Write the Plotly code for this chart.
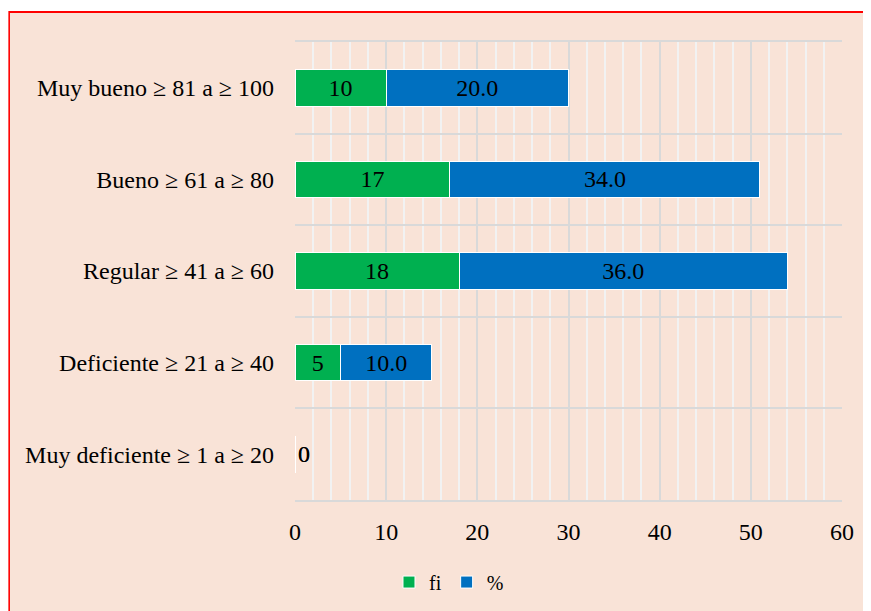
import plotly.graph_objects as go

categories = ["Muy deficiente ≥ 1 a ≥ 20", "Deficiente ≥ 21 a ≥ 40", "Regular ≥ 41 a ≥ 60",
              "Bueno ≥ 61 a ≥ 80", "Muy bueno ≥ 81 a ≥ 100"]
fi = [0, 5, 18, 17, 10]
pct = [0.0, 10.0, 36.0, 34.0, 20.0]

FONT = "Liberation Serif"
BG = "#F9E3D7"
FS = 24

def positions(vals):
    return ["outside" if v == 0 else "inside" for v in vals]

fig = go.Figure()
fig.add_trace(go.Bar(
    y=categories, x=fi, name="fi", orientation="h",
    marker=dict(color="#00B050", line=dict(color="#FFFFFF", width=1)),
    text=[f"{v}" for v in fi], textposition=positions(fi),
    insidetextanchor="middle", textangle=0,
    textfont=dict(family=FONT, size=FS, color="black"),
    cliponaxis=False,
))
fig.add_trace(go.Bar(
    y=categories, x=pct, name="%", orientation="h",
    marker=dict(color="#0070C0", line=dict(color="#FFFFFF", width=1)),
    text=[f"{v:.1f}" if v else "0" for v in pct], textposition=positions(pct),
    insidetextanchor="middle", textangle=0,
    textfont=dict(family=FONT, size=FS, color="black"),
    cliponaxis=False,
))

# chart-area frame (red border, peach fill) drawn behind the plot
fig.add_shape(type="rect", xref="paper", yref="paper",
              x0=-0.5229, x1=1.1, y0=-0.35, y1=1.0655,
              fillcolor=BG, line=dict(color="#FF0000", width=2), layer="below")

fig.update_layout(
    width=863, height=603,
    barmode="stack", bargap=0.6,
    paper_bgcolor=BG, plot_bgcolor=BG,
    margin=dict(l=287, r=29, t=34, b=111, autoexpand=False),
    font=dict(family=FONT, size=FS, color="black"),
    legend=dict(orientation="h", traceorder="normal",
                xref="container", x=0.511, xanchor="center",
                yref="container", y=0.048, yanchor="middle",
                font=dict(family=FONT, size=20), bgcolor="rgba(0,0,0,0)",
                itemwidth=30),
    xaxis=dict(range=[0, 60], dtick=10, tick0=0, showgrid=True, gridcolor="#D9D9D9",
               gridwidth=1.5, zeroline=False,
               showline=True, mirror=True, linecolor="#D9D9D9", linewidth=1.5,
               ticks="outside", ticklen=0, ticklabelstandoff=9,
               minor=dict(dtick=2, showgrid=True, gridcolor="#F2F2F2", gridwidth=1.5),
               tickfont=dict(family=FONT, size=FS)),
    yaxis=dict(type="category", tickson="boundaries", showgrid=True, gridcolor="#D9D9D9",
               gridwidth=1.5, showline=False, zeroline=False,
               ticks="outside", ticklen=0, ticklabelstandoff=20,
               tickfont=dict(family=FONT, size=FS)),
)

# white strip above the frame, as in the reference
fig.add_shape(type="rect", xref="paper", yref="paper",
              x0=-0.6, x1=1.2, y0=1.0677, y1=1.2,
              fillcolor="white", line=dict(width=0), layer="below")
fig.add_shape(type="rect", xref="paper", yref="paper",
              x0=-0.6, x1=-0.5240, y0=-0.4, y1=1.2,
              fillcolor="white", line=dict(width=0), layer="below")

fig.write_html("out.html")
